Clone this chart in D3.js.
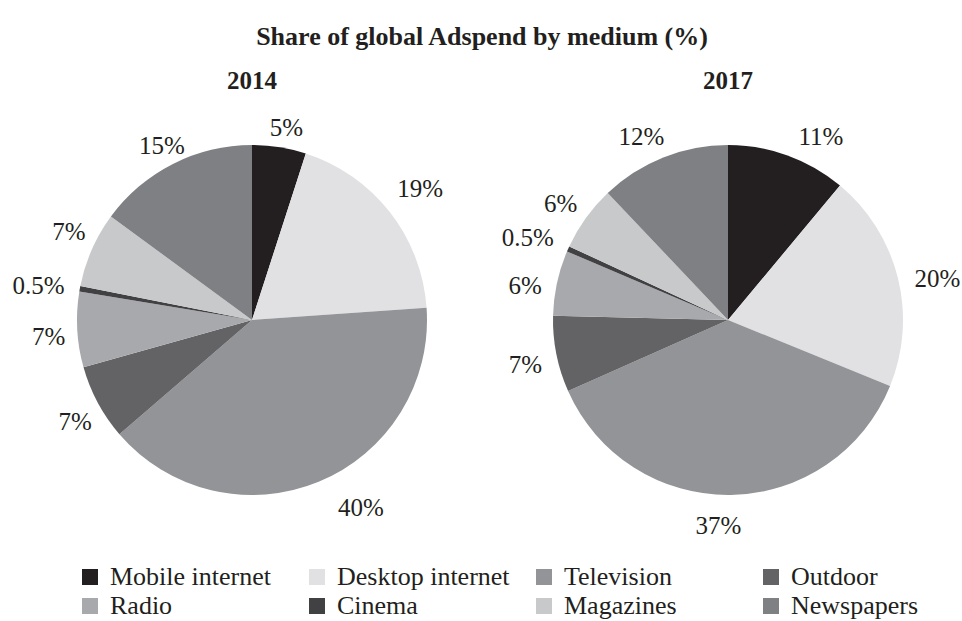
<!DOCTYPE html>
<html>
<head>
<meta charset="utf-8">
<script src="https://cdn.jsdelivr.net/npm/d3@7"></script>
<style>
  html, body { margin: 0; padding: 0; background: #fff; }
  svg { display: block; }
</style>
</head>
<body>
<svg id="chart" width="962" height="621" style="font-family: 'Liberation Serif', 'Times New Roman', Times, 'DejaVu Serif', serif;"></svg>
<script>
// Media categories, in pie order (clockwise from 12 o'clock)
const categories = ["Mobile internet", "Desktop internet", "Television", "Outdoor",
                    "Radio", "Cinema", "Magazines", "Newspapers"];
const years = ["2014", "2017"];
const share2014 = [5, 19, 40, 7, 7, 0.5, 7, 15];
const share2017 = [11, 20, 37, 7, 6, 0.5, 6, 12];
const shades = ["#231f20", "#e1e1e3", "#929497", "#636365",
                "#a8a9ac", "#414143", "#c8c9cb", "#7f8083"];

// hand-tuned label nudges (px) so percentages don't crowd the rim
const nudge2014 = [[2, 6], [-1, -8], [27, 2], [7, 7], [5, 6], [1, 1], [8, -8], [7, 4]];
const nudge2017 = [[20, 5], [1, 7], [-13, 5], [2, 5], [1, 8], [-1, -1], [2, 1], [-7, 3]];

const SERIF = "'Liberation Serif', 'Times New Roman', Times, 'DejaVu Serif', serif";
const INK = "#231f20";

const svg = d3.select("#chart");
const color = d3.scaleOrdinal().domain(categories).range(shades);

svg.append("text")
  .attr("x", 482).attr("y", 45)
  .attr("text-anchor", "middle")
  .attr("font-family", SERIF).attr("fill", INK)
  .attr("font-size", 26).attr("font-weight", "bold")
  .text("Share of global Adspend by medium (%)");

const R = 175;
const centers = [[252, 320], [728, 320]];
const datasets = [share2014, share2017];
const nudges = [nudge2014, nudge2017];

const pie = d3.pie().sort(null).value(d => d.value);
const arc = d3.arc().innerRadius(0).outerRadius(R);

const labelSize = 25;
const labelR = 192;
const fmt = v => v + "%";

// measure helper for label boxes
const measure = svg.append("text").attr("font-family", SERIF)
  .attr("font-size", labelSize).attr("visibility", "hidden");
function textWidth(s) { measure.text(s); return measure.node().getComputedTextLength(); }

datasets.forEach((vals, i) => {
  const [cx, cy] = centers[i];
  const g = svg.append("g").attr("transform", `translate(${cx},${cy})`);
  const rows = categories.map((c, k) => ({ cat: c, value: vals[k], nudge: nudges[i][k] }));
  const arcs = pie(rows);

  svg.append("text")
    .attr("x", cx).attr("y", 89)
    .attr("text-anchor", "middle")
    .attr("font-family", SERIF).attr("fill", INK)
    .attr("font-size", 25).attr("font-weight", "bold")
    .text(years[i]);

  g.selectAll("path.slice").data(arcs).join("path")
    .attr("class", "slice")
    .attr("d", arc)
    .attr("fill", d => color(d.data.cat));

  // labels sit just outside the rim, pushed outward by half their box
  g.selectAll("text.lbl").data(arcs).join("text")
    .attr("class", "lbl")
    .attr("text-anchor", "middle")
    .attr("font-family", SERIF).attr("fill", INK)
    .attr("font-size", labelSize)
    .each(function (d) {
      const a = (d.startAngle + d.endAngle) / 2;
      const s = fmt(d.data.value);
      const w = textWidth(s), h = labelSize * 0.68;
      const x = (labelR + w / 2) * Math.sin(a) + d.data.nudge[0];
      const y = -(labelR + h / 2) * Math.cos(a) + d.data.nudge[1];
      d3.select(this).attr("x", x).attr("y", y + h / 2).text(s);
    });
});

measure.remove();

// Legend: 4 columns x 2 rows
const legendX0 = 82, legendDX = 227, legendY0 = 569, legendDY = 29, sw = 16;
const leg = svg.append("g");
categories.forEach((c, k) => {
  const col = k % 4, row = Math.floor(k / 4);
  const x = legendX0 + col * legendDX, y = legendY0 + row * legendDY;
  leg.append("rect").attr("x", x).attr("y", y).attr("width", sw).attr("height", sw)
    .attr("fill", color(c));
  leg.append("text").attr("x", x + sw + 12).attr("y", y + sw)
    .attr("font-family", SERIF).attr("fill", INK)
    .attr("font-size", 26).text(c);
});
</script>
</body>
</html>
